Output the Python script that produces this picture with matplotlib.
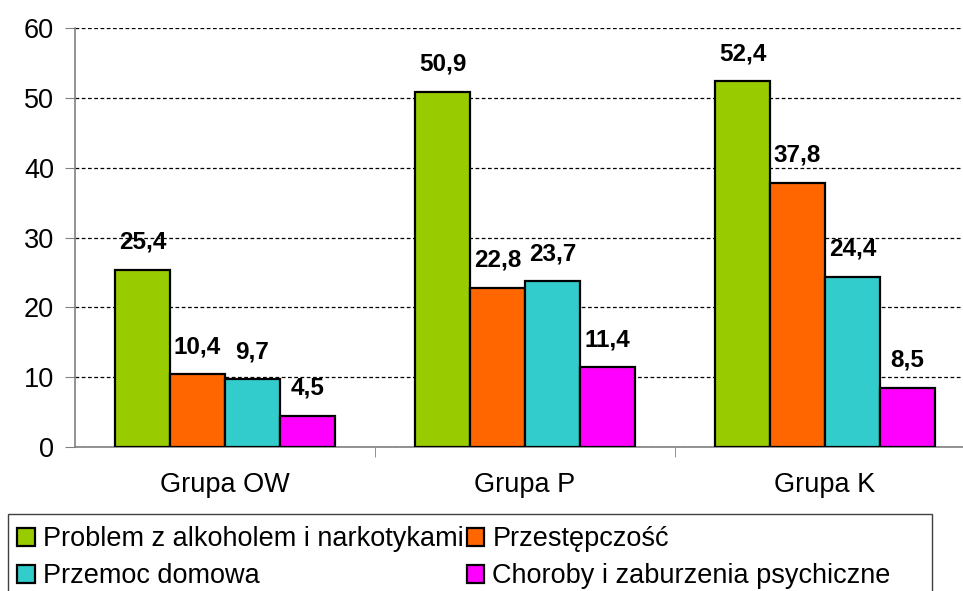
import numpy as np
import matplotlib.pyplot as plt
from matplotlib.patches import Rectangle

plt.rcParams['font.family'] = ['Liberation Sans', 'DejaVu Sans']

groups = ['Grupa OW', 'Grupa P', 'Grupa K']
series = ['Problem z alkoholem i narkotykami', 'Przestępczość',
          'Przemoc domowa', 'Choroby i zaburzenia psychiczne']
alkohol = [25.4, 50.9, 52.4]
przestepczosc = [10.4, 22.8, 37.8]
przemoc = [9.7, 23.7, 24.4]
choroby = [4.5, 11.4, 8.5]
colors = ['#99cc00', '#ff6600', '#33cccc', '#ff00ff']

values = [alkohol, przestepczosc, przemoc, choroby]

fig = plt.figure(figsize=(9.63, 5.91), dpi=100)
ax = fig.add_axes([75 / 963, 1 - 447 / 591, 900 / 963, 419 / 591])

x = np.arange(len(groups))
w = 0.183
handles = []
for i, (vals, c) in enumerate(zip(values, colors)):
    pos = x + (i - 1.5) * w
    b = ax.bar(pos, vals, w, color=c, edgecolor='black', linewidth=1.6,
               label=series[i], zorder=3)
    handles.append(b)
    for p, v in zip(pos, vals):
        ax.text(p, v + 2.3, f'{v:.1f}'.replace('.', ','), ha='center',
                va='bottom', fontsize=17.5, fontweight='bold')

ax.set_xlim(-0.5, 2.5)
ax.set_ylim(0, 60)
ax.set_yticks(range(0, 61, 10))
ax.set_xticks(x)
ax.set_xticklabels(groups, fontsize=19.5)
ax.set_xticks([0.5, 1.5], minor=True)
ax.tick_params(axis='x', which='major', length=0, pad=18)
ax.tick_params(axis='x', which='minor', length=7, color='#808080')
ax.tick_params(axis='y', labelsize=19.5, length=7, color='#808080', pad=8)
ax.yaxis.grid(True, linestyle=(0, (3, 2)), color='black', linewidth=0.9, zorder=0)
for s in ['top', 'right']:
    ax.spines[s].set_visible(False)
ax.spines['left'].set_color('#808080')
ax.spines['bottom'].set_color('#808080')
ax.spines['left'].set_linewidth(1.2)
ax.spines['bottom'].set_linewidth(1.2)

# legend box drawn by hand (its bottom runs off the picture, as in the original)
fig.patches.append(Rectangle((8 / 963, -6 / 591), 924 / 963, 83 / 591,
                             transform=fig.transFigure, fill=False,
                             edgecolor='#404040', linewidth=1.0))
order = [0, 2, 1, 3]
leg = fig.legend(handles=[handles[k] for k in order],
                 labels=[series[k] for k in order], loc='upper left',
                 bbox_to_anchor=(12 / 963, 1 - 521 / 591),
                 ncol=2, fontsize=19.5, frameon=False,
                 handlelength=0.65, handleheight=0.65,
                 handletextpad=0.3, borderaxespad=0, labelspacing=0.4,
                 borderpad=0.2, columnspacing=0.1)
for p in leg.get_patches():
    p.set_linewidth(1.6)

fig.savefig('out.png', dpi=100)
